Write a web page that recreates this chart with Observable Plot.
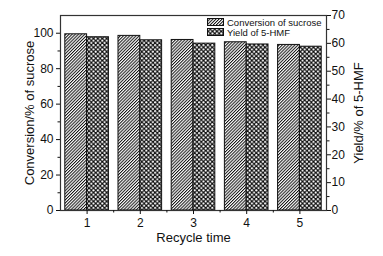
<!DOCTYPE html>
<html><head><meta charset="utf-8">
<script src="https://cdn.jsdelivr.net/npm/d3@7"></script>
<script src="https://cdn.jsdelivr.net/npm/@observablehq/plot@0.6"></script>
<style>
body{margin:0;background:#fff;}
#wrap{position:relative;width:383px;height:256px;font-family:"Liberation Sans",Arial,sans-serif;}
.legend{position:absolute;left:207px;top:17px;font-size:9.5px;color:#111;}
.legend div{display:flex;align-items:center;height:10px;}
.legend svg{margin-right:3px;}
</style></head><body><div id="wrap"></div>
<script>
const recycle = [1, 2, 3, 4, 5];
const conversion = [99.4, 98.5, 96.2, 94.9, 93.4];
const yieldHMF = [62.2, 61.1, 59.9, 59.6, 58.8];
const series = ["Conversion of sucrose", "Yield of 5-HMF"];
const leftTicks = [0, 20, 40, 60, 80, 100];
const leftMinor = [10, 30, 50, 70, 90];
const rightTicks = [0, 10, 20, 30, 40, 50, 60, 70];
const rightMinor = [5, 15, 25, 35, 45, 55, 65];
const xMinor = [1.5, 2.5, 3.5, 4.5];
const leftMax = 110, rightMax = 70;
const k = leftMax / rightMax;
const half = 0.41;

const convData = recycle.map((r, i) => ({r, v: conversion[i]}));
const yieldData = recycle.map((r, i) => ({r, v: yieldHMF[i] * k}));

const plot = Plot.plot({
  width: 383, height: 256,
  marginLeft: 60, marginRight: 57, marginTop: 15, marginBottom: 46,
  style: {fontFamily: '"Liberation Sans", Arial, sans-serif', fontSize: "12px", color: "#111", background: "#fff"},
  x: {domain: [0.5, 5.5]},
  y: {domain: [0, leftMax]},
  marks: [
    Plot.rectY(convData, {x1: d => d.r - half, x2: d => d.r, y1: 0, y2: "v", fill: "url(#hatch)", stroke: "#111", strokeWidth: 1}),
    Plot.rectY(yieldData, {x1: d => d.r, x2: d => d.r + half, y1: 0, y2: "v", fill: "url(#cross)", stroke: "#111", strokeWidth: 1}),
    Plot.frame({stroke: "#333", strokeWidth: 1.2}),
    Plot.axisX(recycle, {tickSize: 4, tickPadding: 4, label: "Recycle time", labelAnchor: "center", labelArrow: "none", labelOffset: 31}),
    Plot.axisX(xMinor, {tickSize: 2.5, text: null, label: null}),
    Plot.axisY(leftTicks, {tickSize: 4, tickPadding: 3, label: "Conversion/% of sucrose", labelAnchor: "center", labelArrow: "none", labelOffset: 36}),
    Plot.axisY(leftMinor, {tickSize: 2.5, text: null, label: null}),
    Plot.axisY(rightTicks.map(t => t * k), {anchor: "right", tickSize: 4, tickPadding: 1, tickFormat: d => Math.round(d / k), label: "Yield/% of 5-HMF", labelAnchor: "center", labelArrow: "none", labelOffset: 36}),
    Plot.axisY(rightMinor.map(t => t * k), {anchor: "right", tickSize: 2.5, text: null, label: null})
  ]
});

const defs = `<defs>
<pattern id="hatch" patternUnits="userSpaceOnUse" width="2.2" height="2.2" patternTransform="rotate(45)">
<rect width="2.2" height="2.2" fill="#fff"/><rect width="1" height="2.2" fill="#111"/></pattern>
<pattern id="cross" patternUnits="userSpaceOnUse" width="4.4" height="4.4">
<rect width="4.4" height="4.4" fill="#111"/><circle cx="1.1" cy="1.1" r="1.05" fill="#fff"/><circle cx="3.3" cy="3.3" r="1.05" fill="#fff"/></pattern>
</defs>`;
plot.insertAdjacentHTML("afterbegin", defs);
d3.select(plot).selectAll("[aria-label='y-axis label'] text, [aria-label='x-axis label'] text").style("font-size", "13px");

const wrap = document.getElementById("wrap");
wrap.appendChild(plot);
const leg = document.createElement("div");
leg.className = "legend";
const fills = ["url(#hatch)", "url(#cross)"];
series.forEach((s, i) => {
  const row = document.createElement("div");
  row.innerHTML = `<svg width="17" height="8"><rect x="0.5" y="0.5" width="16" height="7" fill="${fills[i]}" stroke="#111"/></svg><span>${s}</span>`;
  leg.appendChild(row);
});
wrap.appendChild(leg);
</script></body></html>
